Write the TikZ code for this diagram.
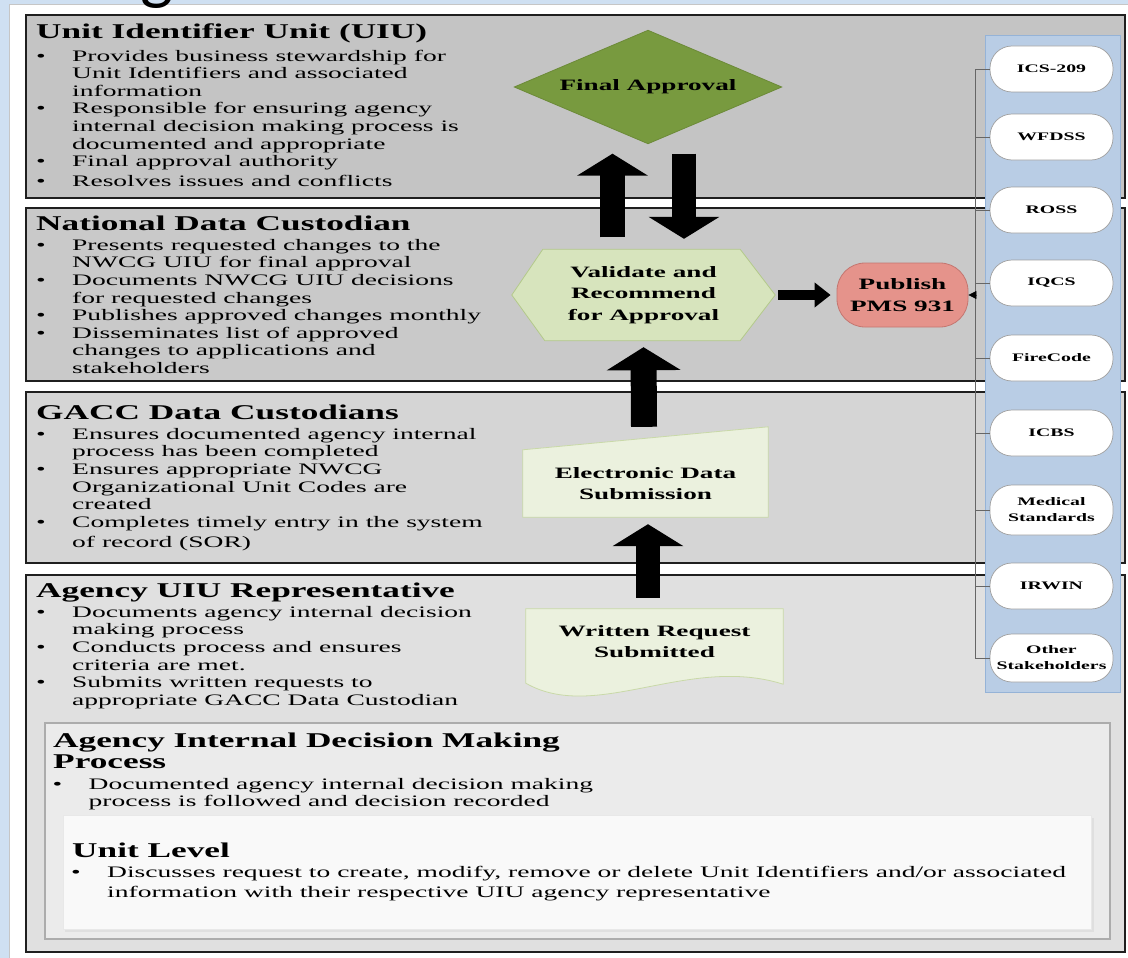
\documentclass[tikz,border=0pt]{standalone}
\usepackage{fontspec}
\setmainfont{Liberation Serif}
\newfontfamily\bfont[FakeStretch=1.72]{Liberation Serif}
\newfontfamily\tfont[FakeStretch=1.68]{Liberation Serif}
\newfontfamily\gfont{Carlito}
\usetikzlibrary{arrows.meta}
\pgfdeclarelayer{bgA}
\pgfdeclarelayer{bgB}
\pgfsetlayers{bgA,bgB,main}
\definecolor{pageblue}{HTML}{CFE0F2}
\definecolor{boxA}{HTML}{C4C4C4}
\definecolor{boxB}{HTML}{C9C9C9}
\definecolor{boxC}{HTML}{D5D5D5}
\definecolor{boxD}{HTML}{E0E0E0}
\definecolor{innerA}{HTML}{EBEBEB}
\definecolor{innerB}{HTML}{F9F9F9}
\definecolor{olive}{HTML}{789A3F}
\definecolor{oliveline}{HTML}{6C8A38}
\definecolor{lgreen}{HTML}{D7E4BD}
\definecolor{lgreenline}{HTML}{B3C98A}
\definecolor{pgreen}{HTML}{EBF1DE}
\definecolor{pgreenline}{HTML}{C9D9A8}
\definecolor{salmon}{HTML}{E5938B}
\definecolor{salmonline}{HTML}{C47670}
\definecolor{panelblue}{HTML}{B9CDE5}
\definecolor{panelline}{HTML}{95B3D7}
\newcommand\bitem{\strut\makebox[36pt][l]{\textbullet}}
\newcommand\bcont{\strut\hspace*{36pt}}
\tikzset{
  lbox/.style={draw=black!88, line width=2.4pt},
  ttl/.style={anchor=base west, inner sep=0pt, font=\tfont\bfseries\fontsize{21}{21}\selectfont},
  bul/.style={anchor=north west, inner sep=0pt, align=left, font=\bfont\fontsize{16}{17.6}\selectfont},
  shp/.style={inner sep=0pt, align=center, font=\bfont\bfseries\fontsize{15.8}{21.5}\selectfont},
  app/.style={draw=gray!75, line width=0.7pt, fill=white, rounded corners=22pt, minimum width=123pt, minimum height=46pt, inner sep=0pt, align=center, font=\bfont\bfseries\fontsize{11.5}{16}\selectfont},
  barrow/.style={draw=black, line width=25pt, -{Triangle[width=70pt,length=22pt]}},
  sarrow/.style={draw=black, line width=10pt, -{Triangle[width=24pt,length=16pt]}},
  tick/.style={draw=gray!80!black, line width=0.8pt},
}
\begin{document}
\begin{tikzpicture}[x=1pt,y=-1pt]
\useasboundingbox (0,0) rectangle (1128,958);

% ---------- background layer: page and bands ----------
\begin{pgfonlayer}{bgA}
  \fill[pageblue] (0,0) rectangle (1128,958);
  \draw[fill=white, draw=gray!45, line width=0.8pt] (9,4) rectangle (1130,960);
  \draw[lbox, fill=boxA] (26,15) rectangle (1125,198);
  \draw[lbox, fill=boxB] (26,208) rectangle (1125,381);
  \draw[lbox, fill=boxC] (26,392) rectangle (1125,563);
  \draw[lbox, fill=boxD] (26,575) rectangle (1125,952);
  \draw[fill=innerA, draw=gray!65, line width=1.2pt] (45,723) rectangle (1110,939);
  \fill[gray!25] (65,818) rectangle (1094,932);
  \draw[fill=innerB, draw=gray!18, line width=0.8pt] (63,815) rectangle (1091,929);
\end{pgfonlayer}

% ---------- left column texts ----------
\node[ttl] (t1) at (36,38.5) {Unit Identifier Unit (UIU)};
\node[bul] (l1) at (36,48.5) {\bitem Provides business stewardship for\\
\bcont Unit Identifiers and associated\\
\bcont information\\
\bitem Responsible for ensuring agency\\
\bcont internal decision making process is\\
\bcont documented and appropriate\\
\bitem Final approval authority\\[2.5pt]
\bitem Resolves issues and conflicts};

\node[ttl] (t2) at (36,230) {National Data Custodian};
\node[bul] (l2) at (36,237.8) {\bitem Presents requested changes to the\\
\bcont NWCG UIU for final approval\\
\bitem Documents NWCG UIU decisions\\
\bcont for requested changes\\
\bitem Publishes approved changes monthly\\
\bitem Disseminates list of approved\\
\bcont changes to applications and\\
\bcont stakeholders};

\node[ttl] (t3) at (36,419) {GACC Data Custodians};
\node[bul] (l3) at (36,426.8) {\bitem Ensures documented agency internal\\
\bcont process has been completed\\
\bitem Ensures appropriate NWCG\\
\bcont Organizational Unit Codes are\\
\bcont created\\
\bitem Completes timely entry in the system\\[3pt]
\bcont of record (SOR)};

\node[ttl] (t4) at (36,597) {Agency UIU Representative};
\node[bul] (l4) at (36,604.8) {\bitem Documents agency internal decision\\
\bcont making process\\
\bitem Conducts process and ensures\\
\bcont criteria are met.\\
\bitem Submits written requests to\\
\bcont appropriate GACC Data Custodian};

% ---------- bottom section ----------
\node[ttl, anchor=north west, align=left] (t5) at (53,732.3) {\strut Agency Internal Decision Making\\\strut Process};
\node[bul, font=\bfont\fontsize{16}{17}\selectfont] (l5) at (52.5,777.1) {\bitem Documented agency internal decision making\\
\bcont process is followed and decision recorded};
\node[ttl] (t6) at (72,857) {Unit Level};
\node[bul, font=\bfont\fontsize{16}{20}\selectfont] (l6) at (71,863) {\bitem Discusses request to create, modify, remove or delete Unit Identifiers and/or associated\\
\bcont information with their respective UIU agency representative};

% ---------- flow shapes (text nodes) ----------
\node[shp, minimum width=267pt, minimum height=113pt] (fa) at (648,87) {Final Approval};
\node[shp, minimum width=263pt, minimum height=91pt] (val) at (643.5,295) {Validate and\\Recommend\\for Approval};
\node[shp, draw=salmonline, fill=salmon, line width=0.8pt, rounded corners=28pt, minimum width=131pt, minimum height=64pt] (pub) at (902.5,295) {Publish\\PMS 931};
\node[shp, minimum width=245pt, minimum height=67pt] (eds) at (645.5,483.5) {Electronic Data\\Submission};
\node[shp, minimum width=257pt, minimum height=65pt] (wrs) at (654.5,641.5) {Written Request\\Submitted};

\begin{pgfonlayer}{bgB}
  \draw[fill=olive, draw=oliveline, line width=0.8pt] (fa.west) -- (fa.north) -- (fa.east) -- (fa.south) -- cycle;
  \draw[fill=lgreen, draw=lgreenline, line width=0.8pt] (val.west) -- ([xshift=31pt]val.north west) -- ([xshift=-35pt]val.north east) -- (val.east) -- ([xshift=-35pt]val.south east) -- ([xshift=33pt]val.south west) -- cycle;
  \draw[fill=pgreen, draw=pgreenline, line width=0.8pt] (eds.south west) -- (eds.south east) -- ([yshift=23pt]eds.north east) -- (eds.north west) -- cycle;
  \draw[fill=pgreen, draw=pgreenline, line width=0.8pt] (wrs.north west) -- (wrs.north east) -- ([yshift=-10pt]wrs.south east)
     .. controls ([xshift=-95pt,yshift=20pt]wrs.south east) and ([xshift=70pt,yshift=-49pt]wrs.south west) .. ([yshift=-9pt]wrs.south west) -- cycle;
  % applications panel
  \draw[fill=panelblue, draw=panelline, line width=0.9pt] (985,35) rectangle (1120,692);
\end{pgfonlayer}

% ---------- applications ----------
\node[app] (ics) at (1051.5,69) {ICS-209};
\node[app] (wfd) at (1051.5,137) {WFDSS};
\node[app] (ros) at (1051.5,210) {ROSS};
\node[app] (iqc) at (1051.5,283) {IQCS};
\node[app] (fco) at (1051.5,358) {FireCode};
\node[app] (icb) at (1051.5,433) {ICBS};
\node[app, minimum height=50pt] (med) at (1051.5,510) {Medical\\Standards};
\node[app] (irw) at (1051.5,586) {IRWIN};
\node[app, minimum height=48pt] (oth) at (1051.5,658) {Other\\Stakeholders};

\draw[tick] (ics.west) -- ++(-14,0) coordinate (bt) |- (oth.west);
\foreach \a in {wfd,ros,iqc,fco,icb,med,irw} {\draw[tick] (\a.west) -- (\a.west -| bt);}
\coordinate (pa) at (bt |- pub.east);
\draw[tick, -{Triangle[width=8pt,length=8pt,color=black]}] (pa) -- (pub.east);

% ---------- block arrows ----------
\draw[barrow] ([xshift=-31pt,yshift=12pt]val.north) -- ([xshift=-35.5pt,yshift=-10pt]fa.south);
\draw[barrow, line width=24pt] ([xshift=36pt,yshift=-10pt]fa.south) -- ([xshift=40.5pt,yshift=10.5pt]val.north);
\draw[sarrow] ([xshift=3pt]val.east) -- ([xshift=-6pt]pub.west);
\draw[barrow, line width=26pt, -{Triangle[width=73pt,length=23pt]}] ([xshift=-1.5pt,yshift=23pt]eds.north) -- ([yshift=-6.5pt]val.south);
\draw[barrow, line width=24pt] ([xshift=-6.5pt,yshift=11pt]wrs.north) -- ([xshift=2.5pt,yshift=-7pt]eds.south);

% ---------- cut-off title glyph at top ----------
\node[anchor=base west, inner sep=0pt, font=\gfont\fontsize{70}{70}\selectfont] (gl) at (140,-3) {g};
\end{tikzpicture}
\end{document}
